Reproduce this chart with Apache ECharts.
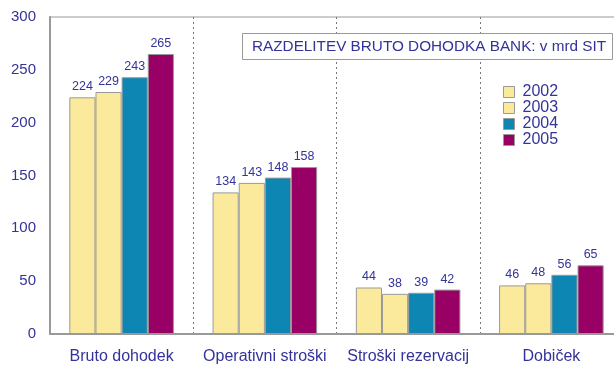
<!DOCTYPE html>
<html>
<head>
<meta charset="utf-8">
<script src="https://cdn.jsdelivr.net/npm/echarts@6/dist/echarts.min.js"></script>
<style>
  html, body { margin: 0; padding: 0; background: #fff; }
  #chart { width: 614px; height: 365px; }
</style>
</head>
<body>
<div id="chart"></div>
<script>
// Distribution of gross bank income, billions SIT
const categories = ['Bruto dohodek', 'Operativni stroški', 'Stroški rezervacij', 'Dobiček'];
const years = ['2002', '2003', '2004', '2005'];
const values2002 = [224, 134, 44, 46];
const values2003 = [229, 143, 38, 48];
const values2004 = [243, 148, 39, 56];
const values2005 = [265, 158, 42, 65];
const yTicks = { min: 0, max: 300, interval: 50 };
const chartTitle = 'RAZDELITEV BRUTO DOHODKA BANK: v mrd SIT';

const seriesValues = [values2002, values2003, values2004, values2005];
const colors = ['#FCEA9C', '#FCEA9C', '#0E86B4', '#990066'];
const textColor = '#333399';
const font = 'Liberation Sans, Arial, sans-serif';

const chart = echarts.init(document.getElementById('chart'), null, { renderer: 'canvas' });

chart.setOption({
  animation: false,
  backgroundColor: '#fff',
  title: {
    text: chartTitle,
    left: 242,
    top: 33,
    padding: [6, 7, 6, 10],
    borderColor: '#999',
    borderWidth: 1,
    backgroundColor: '#fff',
    textStyle: { color: textColor, fontSize: 15.3, fontWeight: 'normal', fontFamily: font, lineHeight: 15 }
  },
  legend: {
    orient: 'vertical',
    left: 498,
    top: 79,
    itemWidth: 11,
    itemHeight: 11,
    itemGap: 0,
    icon: 'rect',
    data: years,
    textStyle: { color: textColor, fontSize: 16, fontFamily: font, padding: [0, 0, 0, 3] },
    itemStyle: { borderColor: '#999', borderWidth: 1 }
  },
  grid: {
    left: 50, width: 573, top: 17, bottom: 31,
    outerBoundsMode: 'none',
    show: true, borderColor: '#999', borderWidth: 1, backgroundColor: 'transparent'
  },
  xAxis: {
    type: 'category',
    data: categories,
    axisLine: { lineStyle: { color: '#999', width: 2 } },
    axisTick: { show: false },
    axisLabel: { color: textColor, fontSize: 16, fontFamily: font, margin: 15, interval: 0 },
    splitLine: { show: true, interval: 0, lineStyle: { color: '#777', type: [2, 3], width: 1 } }
  },
  yAxis: {
    type: 'value',
    min: yTicks.min, max: yTicks.max, interval: yTicks.interval,
    axisLine: { show: true, lineStyle: { color: '#999', width: 2 } },
    axisTick: { show: false },
    splitLine: { show: false },
    axisLabel: { color: textColor, fontSize: 15, fontFamily: font, margin: 14 }
  },
  series: years.map((y, i) => ({
    name: y,
    type: 'bar',
    data: seriesValues[i],
    barGap: '0%',
    barCategoryGap: '27%',
    itemStyle: { color: colors[i], borderColor: '#999', borderWidth: 1 },
    label: {
      show: true, position: 'top', distance: 4,
      color: textColor, fontSize: 12.5, fontFamily: font
    }
  }))
});
</script>
</body>
</html>
